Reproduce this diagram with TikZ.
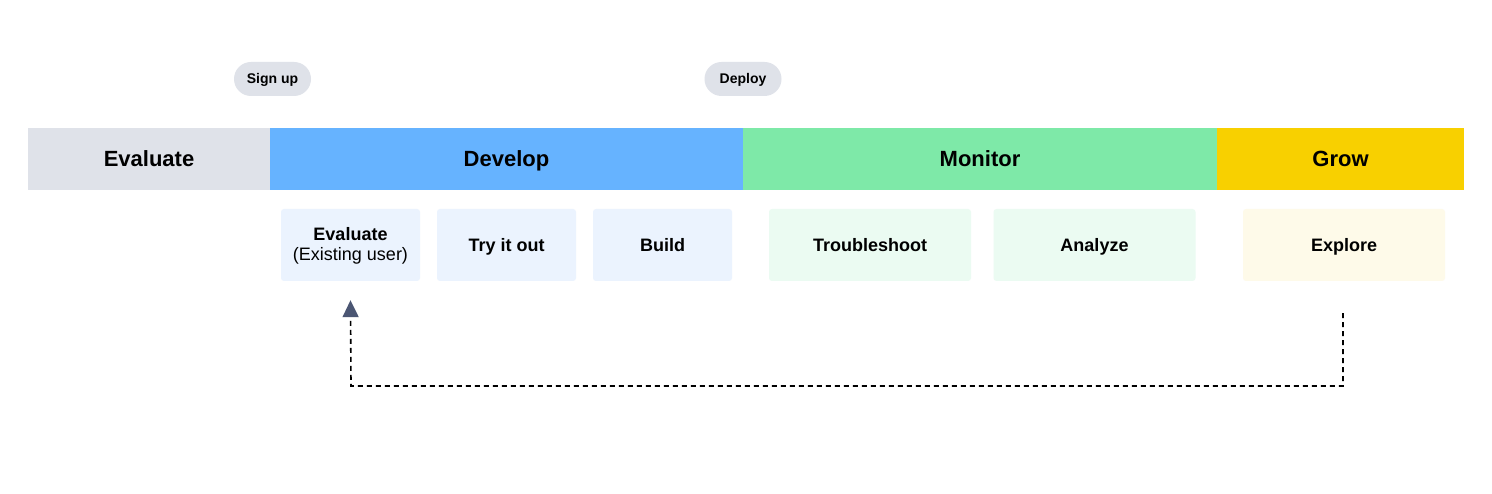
\documentclass[tikz,border=0pt]{standalone}
\usepackage{fontspec}
\setmainfont{Liberation Sans}
\usetikzlibrary{arrows.meta}
\definecolor{evalgray}{HTML}{DFE2E9}
\definecolor{devblue}{HTML}{66B3FF}
\definecolor{mongreen}{HTML}{7EE9A8}
\definecolor{growyellow}{HTML}{F8D000}
\definecolor{devlight}{HTML}{EBF3FE}
\definecolor{monlight}{HTML}{EBFBF2}
\definecolor{growlight}{HTML}{FEFAE9}
\definecolor{tipslate}{HTML}{4B5673}
\tikzset{
  band/.style={rectangle, inner sep=0pt, minimum height=62pt, text height=16pt, text depth=0pt, font=\fontsize{22}{26}\selectfont\bfseries},
  pill/.style={rectangle, rounded corners=17pt, fill=evalgray, inner sep=0pt, minimum width=77pt, minimum height=34pt, text height=10pt, text depth=0pt, font=\fontsize{14}{16}\selectfont\bfseries},
  task/.style={rectangle, rounded corners=3pt, inner sep=0pt, minimum height=72pt, text height=13pt, text depth=0pt, align=center, font=\fontsize{18}{20}\selectfont\bfseries},
  loopback/.style={dashed, dash pattern=on 5pt off 4pt, line width=1.6pt, -{Triangle[length=17pt,width=16pt,color=tipslate]}}
}
\begin{document}
\begin{tikzpicture}[x=1pt,y=-1pt]
\useasboundingbox[fill=white] (0,0) rectangle (1492,494);
% the phase band
\node[band, fill=evalgray, minimum width=242pt] (evb) at (149,159) {Evaluate};
\node[band, fill=devblue, minimum width=473pt] (dvb) at (506.5,159) {Develop};
\node[band, fill=mongreen, minimum width=474pt] (mnb) at (980,159) {Monitor};
\node[band, fill=growyellow, minimum width=247pt] (grb) at (1340.5,159) {Grow};
% the milestones
\node[pill] (su) at (272.5,79) {Sign up};
\node[pill] (dp) at (743,79) {Deploy};
% the tasks below each phase
\node[task, fill=devlight, minimum width=139pt, text height=32pt] (ev) at (350.5,245) {Evaluate\\{\mdseries (Existing user)}};
\foreach \n/\x/\t in {tr/506.5/Try it out, bu/662.5/Build} % edit here for develop tasks
\node[task, fill=devlight, minimum width=139pt] (\n) at (\x,245) {\t};
\foreach \n/\x/\t in {ts/870/Troubleshoot, an/1094.5/Analyze} % edit here for monitor tasks
\node[task, fill=monlight, minimum width=202pt] (\n) at (\x,245) {\t};
\node[task, fill=growlight, minimum width=202pt] (ex) at (1344,245) {Explore};
% loop back from grow to develop
\coordinate (go) at ([xshift=-1pt,yshift=-32pt]ex.south);
\coordinate (back) at ([yshift=-19pt]ev.south);
\coordinate (low) at (351,386);
\draw[loopback] (go) |- (low) -- (back);
\end{tikzpicture}
\end{document}
